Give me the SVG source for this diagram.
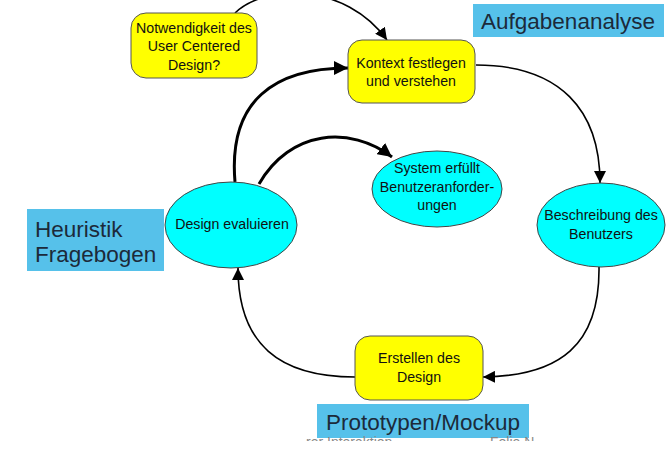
<svg xmlns="http://www.w3.org/2000/svg" width="668" height="457" viewBox="0 0 668 457">
<style>
.node text{font-family:"Liberation Sans",Arial,sans-serif;font-size:14.2px;fill:#111;text-anchor:middle}
.y{fill:#ffff00;stroke:#555;stroke-width:1}
.c{fill:#00ffff;stroke:#444;stroke-width:1}
.lbl rect{fill:#56c1ea}
.lbl text{font-family:"Liberation Sans",Arial,sans-serif;font-size:22.5px;fill:#1c2a3a}
.thin{fill:none;stroke:#000;stroke-width:1.6}
.thick{fill:none;stroke:#000;stroke-width:3}
.foot{font-family:"Liberation Sans",Arial,sans-serif;font-size:14px;fill:#888}
</style>
<defs>
<marker id="a" viewBox="0 0 10 10" refX="10" refY="5" markerWidth="12" markerHeight="12" markerUnits="userSpaceOnUse" orient="auto"><path d="M0,0 L10,5 L0,10 z" fill="#000"/></marker>
<marker id="b" viewBox="0 0 10 10" refX="10" refY="5" markerWidth="14" markerHeight="14" markerUnits="userSpaceOnUse" orient="auto"><path d="M0,0 L10,5 L0,10 z" fill="#000"/></marker>
<clipPath id="fc"><rect x="0" y="0" width="668" height="441"/></clipPath>
</defs>
<rect width="668" height="457" fill="#fff"/>
<g id="connectors">
<path class="thin" d="M235,13 C265,-16 345,-18 387,40" marker-end="url(#a)"/>
<path class="thin" d="M476,65 C560,65 600,110 600,183" marker-end="url(#a)"/>
<path class="thin" d="M599,267 C600,345 560,376 483,377" marker-end="url(#a)"/>
<path class="thin" d="M355,377 C280,377 238,345 238,268" marker-end="url(#a)"/>
<path class="thick" d="M235,182 C228,100 275,68 348,68" marker-end="url(#b)"/>
<path class="thick" d="M259,184 C290,130 350,125 392,157" marker-end="url(#b)"/>
</g>
<g id="n-notwendigkeit" class="node">
<rect class="y" x="131" y="13" width="126" height="65" rx="15"/>
<text x="194" y="33">Notwendigkeit des</text>
<text x="194" y="51">User Centered</text>
<text x="194" y="70">Design?</text>
</g>
<g id="n-kontext" class="node">
<rect class="y" x="348" y="40" width="127" height="63" rx="14"/>
<text x="411" y="68">Kontext festlegen</text>
<text x="411" y="86">und verstehen</text>
</g>
<g id="n-system" class="node">
<ellipse class="c" cx="437" cy="189" rx="65" ry="38"/>
<text x="437" y="173">System erfüllt</text>
<text x="437" y="192">Benutzeranforder-</text>
<text x="437" y="210">ungen</text>
</g>
<g id="n-beschreibung" class="node">
<ellipse class="c" cx="601" cy="225" rx="64" ry="42"/>
<text x="601" y="220">Beschreibung des</text>
<text x="601" y="239">Benutzers</text>
</g>
<g id="n-design" class="node">
<ellipse class="c" cx="231" cy="225" rx="66" ry="43"/>
<text x="232" y="229">Design evaluieren</text>
</g>
<g id="n-erstellen" class="node">
<rect class="y" x="355" y="336" width="128" height="64" rx="15"/>
<text x="419" y="363">Erstellen des</text>
<text x="419" y="382">Design</text>
</g>
<g id="l-aufgaben" class="lbl">
<rect x="473" y="4" width="191" height="33"/>
<text x="568" y="29" text-anchor="middle">Aufgabenanalyse</text>
</g>
<g id="l-heuristik" class="lbl">
<rect x="27" y="209" width="137" height="62"/>
<text x="35" y="237">Heuristik</text>
<text x="35" y="262">Fragebogen</text>
</g>
<g id="l-prototypen" class="lbl">
<rect x="317" y="404" width="212" height="34"/>
<text x="423" y="430" text-anchor="middle">Prototypen/Mockup</text>
</g>
<g clip-path="url(#fc)">
<text class="foot" x="306" y="447">rer Interaktion</text>
<text class="foot" x="490" y="447">Folie N</text>
</g>
</svg>
